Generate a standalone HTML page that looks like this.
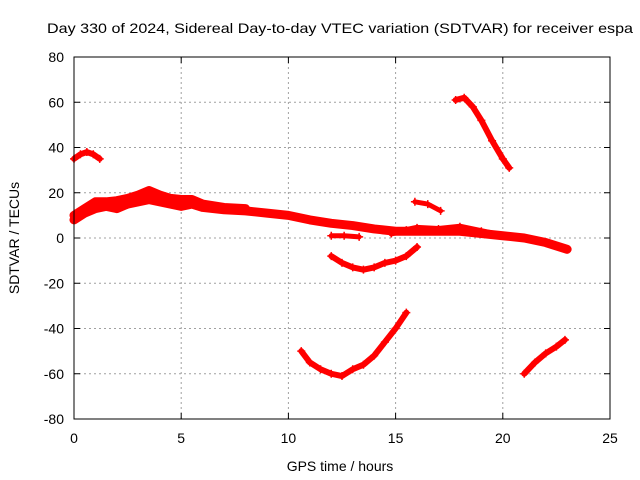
<!DOCTYPE html>
<html><head><meta charset="utf-8"><style>body{margin:0;background:#fff}svg{display:block;font-family:"Liberation Sans",sans-serif}</style></head>
<body>
<svg id="chart" width="640" height="480" viewBox="0 0 640 480">
<rect width="640" height="480" fill="#fff"/>
<text x="47" y="33" font-size="14" textLength="586" lengthAdjust="spacingAndGlyphs">Day 330 of 2024, Sidereal Day-to-day VTEC variation (SDTVAR) for receiver espa</text>
<g id="grid"></g><g id="marks"></g><g id="axes"></g>
<text x="340" y="471" font-size="14" text-anchor="middle">GPS time / hours</text>
<text transform="translate(19,238) rotate(-90)" font-size="14" text-anchor="middle">SDTVAR / TECUs</text>
</svg>
<script>
const xTicks=[0,5,10,15,20,25];
const yTicks=[-80,-60,-40,-20,0,20,40,60,80];
const sMain=[[0,8],[0.5,11],[1,13],[1.5,14],[2,13],[2.5,15],[3,16],[3.5,17],[4,16],[4.5,15],[5,14],[5.5,15],[6,13.5],[7,12.5],[8,12],[9,11],[10,10],[11,8],[12,6.5],[13,5.5],[14,4],[15,3],[16,3],[17,3],[18,3],[19,2],[20,1],[21,0],[22,-2],[23,-5]];
const sMainUpper=[[0,10],[0.5,13],[1,16],[1.5,16],[2,16.5],[2.5,17.5],[3,19],[3.5,21],[4,19],[4.5,17.5],[5,17],[5.5,17],[6,15],[7,13.5],[8,13]];
const sTopLeft=[[0,35],[0.3,37],[0.6,38],[0.9,37],[1.2,35]];
const sTopRight=[[17.8,61],[18.2,62],[18.6,58],[19,52],[19.5,43],[20,35],[20.3,31]];
const sMid=[[15.9,16],[16.5,15],[17.1,12]];
const sShort=[[12,1],[12.6,1],[13.3,0.5]];
const sDip=[[12,-8],[12.5,-11],[13,-13],[13.5,-14],[14,-13],[14.5,-11],[15,-10],[15.5,-8],[16,-4]];
const sBand2=[[14.8,2],[15.5,3.5],[16,4.5],[17,4],[18,5],[19,3],[20,1]];
const sLow=[[10.6,-50],[11,-55],[11.5,-58],[12,-60],[12.5,-61],[13,-58],[13.5,-56],[14,-52],[14.5,-46],[15,-40],[15.5,-33]];
const sLowRight=[[21,-60],[21.5,-55],[22,-51],[22.5,-48],[22.9,-45]];
const series=[[sMain,"main-series",9],[sMainUpper,"main-upper-series",9],[sTopLeft,"top-left-series",6],[sTopRight,"top-right-series",6],[sMid,"mid-series",5],[sShort,"short-series",5],[sDip,"dip-series",6],[sBand2,"band2-series",6],[sLow,"low-series",6],[sLowRight,"low-right-series",6]];
const X0=74,X1=610,Y0=419,Y1=57;
const xs=v=>X0+(v/25)*(X1-X0), ys=v=>Y0-((v+80)/160)*(Y0-Y1);
const NS="http://www.w3.org/2000/svg";
function mk(t,a,p){const e=document.createElementNS(NS,t);for(const k in a)e.setAttribute(k,a[k]);p.appendChild(e);return e;}
const grid=document.getElementById('grid'),axes=document.getElementById('axes'),marks=document.getElementById('marks');
xTicks.forEach(t=>{const x=xs(t);
 if(t>0&&t<25){const g=mk('line',{x1:x,x2:x,y1:Y1,y2:Y0,stroke:'#a0a0a0','stroke-dasharray':'2,3'},grid);
 
 }
 const l=mk('text',{x:x,y:Y0+24,'font-size':14,'text-anchor':'middle'},axes);l.textContent=t;
 
 
 mk('line',{x1:x,x2:x,y1:Y0,y2:Y0-6,stroke:'#000'},axes);mk('line',{x1:x,x2:x,y1:Y1,y2:Y1+6,stroke:'#000'},axes);});
yTicks.forEach(t=>{const y=ys(t);
 if(t>-80&&t<80){const g=mk('line',{x1:X0,x2:X1,y1:y,y2:y,stroke:'#a0a0a0','stroke-dasharray':'2,3'},grid);
 
 }
 const l=mk('text',{x:X0-10,y:y+5,'font-size':14,'text-anchor':'end'},axes);l.textContent=t;
 
 
 mk('line',{x1:X0,x2:X0+6,y1:y,y2:y,stroke:'#000'},axes);mk('line',{x1:X1,x2:X1-6,y1:y,y2:y,stroke:'#000'},axes);});
const fr=mk('rect',{x:X0,y:Y1,width:X1-X0,height:Y0-Y1,fill:'none',stroke:'#000'},axes);


series.forEach(([d,name,w])=>{
 const g=mk('g',{},marks);
 
 
 mk('polyline',{points:d.map(p=>xs(p[0])+','+ys(p[1])).join(' '),fill:'none',stroke:'#f00','stroke-width':w,'stroke-linejoin':'round','stroke-linecap':'round'},g);
 d.forEach(p=>{const x=xs(p[0]),y=ys(p[1]);
  mk('path',{d:`M${x-4},${y}H${x+4}M${x},${y-4}V${y+4}`,stroke:'#f00','stroke-width':1.5},g);});
});
</script>
</body></html>
